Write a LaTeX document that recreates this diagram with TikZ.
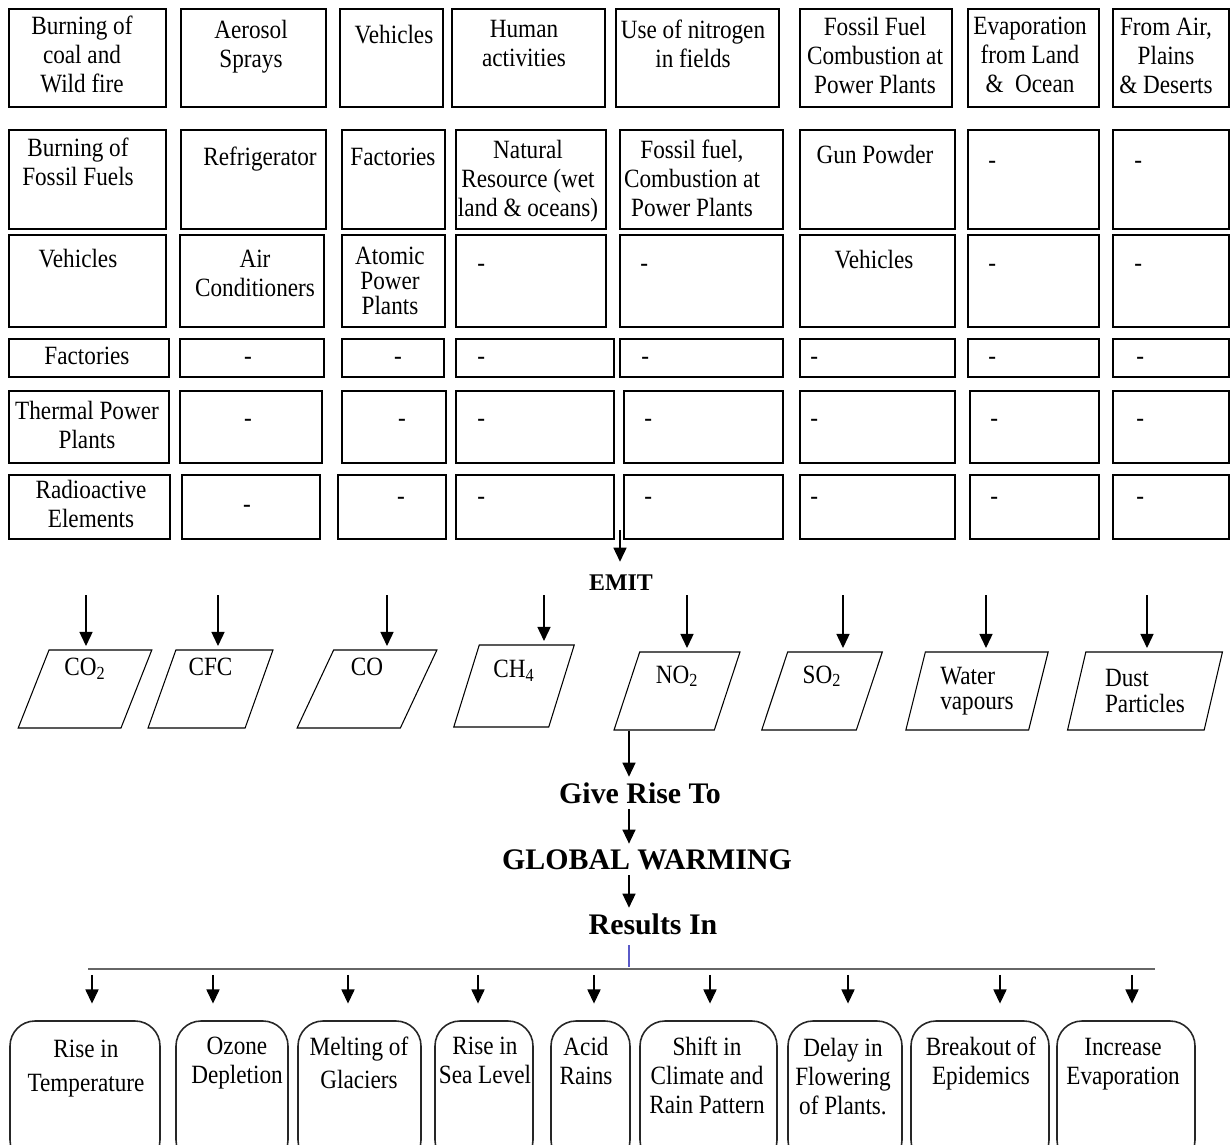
\documentclass[tikz,border=0pt]{standalone}
\usepackage{fontspec}
\setmainfont{Liberation Serif}[FakeStretch=0.88]
\newfontfamily\headfont{Liberation Serif}
\usepackage{tikz}
\usetikzlibrary{arrows.meta,shapes.geometric,fit}
\definecolor{linkblue}{RGB}{90,90,200}

\begin{document}
\begin{tikzpicture}[
  x=0.02cm, y=-0.02cm,
  font=\fontsize{15}{16.5}\selectfont,
  cell/.style={draw,line width=1.1pt,inner sep=0pt},
  txt/.style={align=center,inner sep=0pt,yshift=11.55pt,execute at begin node=\strut},
  gas/.style={draw,line width=0.6pt,trapezium,trapezium left angle=74,trapezium right angle=106,
    trapezium stretches=true,minimum height=1.56cm,inner sep=0pt,align=left,
    font=\fontsize{15}{14.5}\selectfont},
  low/.style={text height=10pt,text depth=#1},
  effect/.style={draw=black!85,line width=0.9pt,rounded corners=0.5cm,inner sep=0pt},
  head/.style={font=\headfont\bfseries\fontsize{17}{20}\selectfont,inner sep=3pt},
  to/.style={-{Triangle[length=8pt,width=7.5pt]},line width=0.6pt},
  bar/.style={draw=black!60,line width=1.6pt},
  link/.style={draw=linkblue,line width=0.9pt}]

  \useasboundingbox (0,0) rectangle (1231,1144);
  \clip (0,0) rectangle (1231,1144);

  % Sources: the boxes of the table and their texts
  \foreach \nm/\xa/\ya/\xb/\yb/\tx/\ty/\an/\txt in {
    a1/9/9/166/107/82/36/north/{Burning of\\coal and\\Wild fire},
    a2/181/9/326/107/251/40/north/{Aerosol\\Sprays},
    a3/340/9/443/107/394/43/north/{Vehicles},
    a4/452/9/605/107/524/40/north/{Human\\activities},
    a5/616/9/779/107/693/40/north/{Use of nitrogen\\in fields},
    a6/800/9/952/107/875/37/north/{Fossil Fuel\\Combustion at\\Power Plants},
    a7/968/9/1099/107/1030/37/north/{Evaporation\\from Land\\\&~~Ocean},
    a8/1113/9/1229/107/1166/38/north/{From Air,\\Plains\\\& Deserts},
    b1/9/130/166/229/78/158/north/{Burning of\\Fossil Fuels},
    b2/181/130/326/229/260/165/north/{Refrigerator},
    b3/342/130/445/229/393/165/north/{Factories},
    b4/456/130/606/229/528/160/north/{Natural\\Resource (wet\\land \& oceans)},
    b5/620/130/783/229/692/160/north/{Fossil fuel,\\Combustion at\\Power Plants},
    b6/800/130/955/229/875/163/north/{Gun Powder},
    b7/968/130/1099/229/988/168/north west/-,
    b8/1113/130/1229/229/1134/168/north west/-,
    c1/9/235/166/327/78/267/north/{Vehicles},
    c2/180/235/324/327/255/270/north/{Air\\Conditioners},
    c3/342/235/445/327/390/267/north/{Atomic\\[-2.3pt]Power\\[-2.3pt]Plants},
    c4/456/235/606/327/477/271/north west/-,
    c5/620/235/783/327/640/271/north west/-,
    c6/800/235/955/327/874/268/north/{Vehicles},
    c7/968/235/1099/327/988/271/north west/-,
    c8/1113/235/1229/327/1134/271/north west/-,
    d1/9/339/169/377/87/364/north/{Factories},
    d2/180/339/324/377/248/364/north/-,
    d3/342/339/444/377/398/364/north/-,
    d4/456/339/614/377/477/364/north west/-,
    d5/620/339/783/377/641/364/north west/-,
    d6/800/339/955/377/810/364/north west/-,
    d7/968/339/1099/377/988/364/north west/-,
    d8/1113/339/1229/377/1136/364/north west/-,
    e1/9/391/169/463/87/421/north/{Thermal Power\\Plants},
    e2/180/391/322/463/248/426/north/-,
    e3/342/391/446/463/402/426/north/-,
    e4/456/391/614/463/477/426/north west/-,
    e5/624/391/783/463/644/426/north west/-,
    e6/800/391/955/463/810/426/north west/-,
    e7/970/391/1099/463/990/426/north west/-,
    e8/1113/391/1229/463/1136/426/north west/-,
    f1/9/475/170/539/91/500/north/{Radioactive\\Elements},
    f2/182/475/320/539/247/512/north/-,
    f3/338/475/446/539/401/504/north/-,
    f4/456/475/614/539/477/504/north west/-,
    f5/624/475/783/539/644/504/north west/-,
    f6/800/475/955/539/810/504/north west/-,
    f7/970/475/1099/539/990/504/north west/-,
    f8/1113/475/1229/539/1136/504/north west/-}{
    \node[cell,fit={(\xa,\ya)(\xb,\yb)}] (\nm) {};
    \node[txt,anchor=\an] (t\nm) at (\tx,\ty) {\txt};
  }

  % Gases
  \node[gas,low=25pt,minimum width=2.68cm] (co2) at (85,689) {CO\textsubscript{2}};
  \node[gas,low=25pt,minimum width=2.5cm] (cfc) at (210.5,689) {CFC};
  \node[gas,low=25pt,minimum width=2.8cm] (co) at (367,689) {CO};
  \node[gas,low=20pt,minimum width=2.42cm,minimum height=1.64cm] (ch4) at (514,686) {CH\textsubscript{4}};
  \node[gas,low=19pt,minimum width=2.52cm] (no2) at (677,691) {NO\textsubscript{2}};
  \node[gas,low=19pt,minimum width=2.42cm] (so2) at (822,691) {SO\textsubscript{2}};
  \node[gas,minimum width=2.86cm] (wat) at (977,691) {Water\\vapours};
  \node[gas,minimum width=3.1cm] (dust) at (1145,691) {Dust\\Particles};

  % Chain of captions
  \node[head,font=\headfont\bfseries\fontsize{13.6}{16}\selectfont,anchor=base] (emit) at (621,590) {EMIT};
  \node[head,anchor=base] (rise) at (640,803) {Give Rise To};
  \node[head,anchor=base] (glob) at (647,869) {GLOBAL WARMING};
  \node[head,anchor=base] (res) at (653,934) {Results In};

  % Effects
  \foreach \nm/\xa/\xb/\tx/\ty/\txt in {
    r1/10/160/86/1060/{Rise in\\[3pt]Temperature},
    r2/176/288/237/1057/{Ozone\\Depletion},
    r3/298/421/359/1057/{Melting of\\[2pt]Glaciers},
    r4/435/533/485/1057/{Rise in\\Sea Level},
    r5/551/630/586/1057/{Acid\\Rains},
    r6/640/777/707/1057/{Shift in\\Climate and\\Rain Pattern},
    r7/788/902/843/1058/{Delay in\\Flowering\\of Plants.},
    r8/911/1049/981/1057/{Breakout of\\Epidemics},
    r9/1057/1195/1123/1058/{Increase\\Evaporation}}{
    \node[effect,fit={(\xa,1021)(\xb,1165)}] (\nm) {};
    \node[txt,anchor=north] (t\nm) at (\tx,\ty) {\txt};
  }

  % Arrows
  \coordinate (src) at (620,530);
  \draw[to,shorten >=4pt] (src) -- (src |- emit.north);
  \foreach \x/\g in {86/co2,218/cfc,387/co,544/ch4,687/no2,843/so2,986/wat,1147/dust}{
    \coordinate (e\g) at (\x,595);
    \draw[to,shorten >=2pt] (e\g) -- (e\g |- \g.north);
  }
  \coordinate (gx) at (629,0);
  \draw[to] (no2.south -| gx) -- (rise.north -| gx);
  \draw[to] (rise.south -| gx) -- (glob.north -| gx);
  \draw[to] (glob.south -| gx) -- (res.north -| gx);
  \coordinate (barL) at (88,969);
  \coordinate (barR) at (1155,969);
  \draw[link,shorten <=3pt,shorten >=1pt] (res.south -| gx) -- (barL -| gx);
  \draw[bar] (barL) -- (barR);
  \foreach \x [count=\i] in {92,213,348,478,594,710,848,1000,1132}{
    \coordinate (b\i) at (\x,969);
    \draw[to,shorten <=3.4pt,shorten >=9.5pt] (b\i) -- (b\i |- r\i.north);
  }
\end{tikzpicture}
\end{document}
